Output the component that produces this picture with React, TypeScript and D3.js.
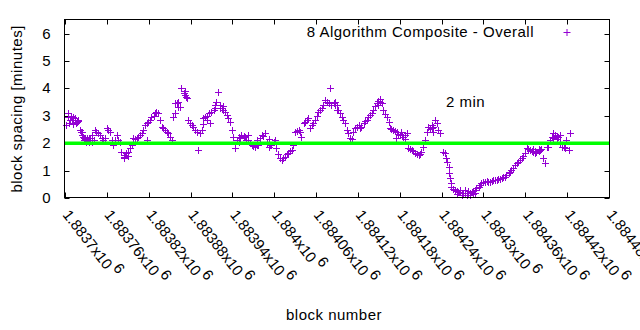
import React from 'react';
import * as d3 from 'd3';

// ---- data (block number, block spacing in minutes) ----
const blocksA = [1883702,1883704,1883705,1883706,1883707,1883708,1883710,1883711,1883712,1883714,1883716,1883717,1883718,1883719,1883722,1883723,1883724,1883725,1883726,1883727,1883729,1883730,1883731,1883733,1883734,1883736,1883738,1883739,1883741,1883743,1883745,1883748,1883750,1883753,1883755,1883757,1883760,1883762,1883765,1883767,1883769,1883772,1883774,1883776,1883779];
const spacingA = [2.66,2.95,2.97,2.75,2.85,3.0,2.85,2.7,2.9,2.9,2.75,2.78,2.85,2.8,2.48,2.4,2.42,2.3,2.24,2.1,2.15,2.05,2.18,2.1,2.2,2.18,2.3,2.05,2.12,2.48,2.42,2.36,2.3,2.18,2.12,2.2,2.54,2.48,2.42,2.12,1.93,2.12,2.3,2.12,2.05];

const blocksB = [1883781,1883784,1883785,1883786,1883788,1883790,1883791,1883793,1883796,1883798,1883800,1883803,1883805,1883808,1883810,1883812,1883815,1883817,1883818,1883819,1883822,1883824,1883827,1883829,1883831,1883834,1883836,1883839,1883841,1883843,1883846,1883848,1883851,1883853,1883855,1883858,1883860,1883862,1883865,1883867,1883870,1883872,1883874,1883877,1883879,1883882,1883884,1883886,1883889,1883891,1883894];
const spacingB = [1.69,1.51,1.45,1.57,1.63,1.55,1.69,1.81,1.93,2.18,2.15,2.18,2.24,2.3,2.36,2.48,2.66,2.73,2.12,2.78,2.85,2.97,3.0,3.09,3.15,3.09,2.85,2.6,2.54,2.48,2.42,2.36,2.24,2.1,2.97,3.09,3.45,3.51,3.33,4.0,3.82,3.76,3.7,2.85,2.73,2.66,2.6,2.48,2.42,1.75,2.36];

const blocksC = [1883896,1883898,1883901,1883903,1883906,1883908,1883910,1883913,1883915,1883917,1883920,1883922,1883925,1883927,1883929,1883932,1883934,1883937,1883939,1883941,1883944,1883946,1883949,1883951,1883953,1883956,1883958,1883960,1883963,1883965,1883968,1883970,1883972,1883975,1883977,1883980,1883982,1883984,1883987,1883989,1883992,1883994,1883996,1883999,1884001,1884003,1884006,1884008,1884011,1884013,1884015,1884018,1884020,1884023,1884025,1884027,1884030,1884032,1884035];
const spacingC = [2.48,2.7,2.97,3.0,3.09,2.73,3.15,3.21,3.4,3.51,3.88,3.3,3.27,3.2,3.15,3.03,2.91,2.78,2.48,2.24,1.81,2.1,2.24,2.2,2.3,2.25,2.24,2.1,2.12,2.0,1.93,1.9,1.87,1.95,1.93,2.2,2.3,2.25,2.36,2.0,1.87,1.95,1.93,2.05,2.12,1.81,1.6,1.45,1.39,1.45,1.51,1.6,1.63,1.7,1.75,1.93,2.42,2.45,2.48];

const blocksD = [1884037,1884039,1884042,1884044,1884047,1884049,1884051,1884054,1884056,1884058,1884061,1884063,1884066,1884068,1884070,1884073,1884075,1884078,1884080,1884082,1884085,1884087,1884090,1884092,1884094,1884097,1884099,1884101,1884104,1884106,1884109,1884111,1884113,1884116,1884118,1884121,1884123,1884125,1884128,1884130,1884133,1884135,1884137,1884140,1884142,1884144,1884147,1884149,1884152,1884154,1884156,1884159,1884161,1884164,1884166,1884168,1884171,1884173,1884176,1884178,1884180];
const spacingD = [2.4,2.24,2.73,2.78,2.85,2.91,2.54,2.66,2.75,2.85,3.0,3.15,3.2,3.27,3.4,3.58,3.5,3.45,4.0,3.39,3.45,3.4,3.39,3.21,3.09,2.95,2.85,2.73,2.48,2.36,2.18,2.15,2.4,2.54,2.6,2.66,2.55,2.6,2.73,2.8,2.85,2.95,3.03,3.1,3.21,3.35,3.45,3.55,3.51,3.45,3.21,3.05,2.97,2.78,2.54,2.5,2.48,2.45,2.42,2.35,2.3];

const blocksE = [1884183,1884185,1884187,1884190,1884192,1884195,1884197,1884199,1884202,1884204,1884207,1884209,1884211,1884214,1884216,1884219,1884221,1884223,1884226,1884228,1884231,1884233,1884235,1884238,1884242,1884245,1884247,1884248,1884250,1884251,1884252,1884253,1884254,1884257,1884259,1884262,1884264,1884266,1884269,1884271,1884274,1884276,1884278];
const spacingE = [2.28,2.24,2.3,2.36,1.81,1.78,1.75,1.7,1.63,1.6,1.57,1.62,1.69,1.87,2.1,2.42,2.6,2.5,2.54,2.6,2.85,2.73,2.48,2.36,1.69,1.63,1.45,1.3,1.14,0.9,0.72,0.55,0.41,0.33,0.29,0.25,0.23,0.21,0.2,0.19,0.18,0.17,0.17];

const blocksF = [1884281,1884283,1884285,1884288,1884290,1884293,1884295,1884297,1884300,1884302,1884305,1884307,1884309,1884312,1884314,1884317,1884319,1884321,1884324,1884326,1884328,1884331,1884333,1884336,1884338,1884340,1884343,1884345,1884348,1884350,1884352,1884355,1884357,1884360,1884362,1884364,1884367,1884369,1884371,1884374,1884376,1884379,1884381,1884383,1884386,1884388,1884391,1884393,1884395,1884398,1884400,1884403,1884405,1884407,1884410,1884412,1884415,1884417,1884419,1884422,1884424];
const spacingF = [0.2,0.23,0.26,0.29,0.35,0.41,0.48,0.54,0.57,0.6,0.62,0.6,0.6,0.62,0.64,0.66,0.66,0.68,0.68,0.72,0.75,0.78,0.84,0.9,0.96,1.02,1.1,1.2,1.26,1.32,1.38,1.45,1.55,1.63,1.81,1.78,1.75,1.72,1.69,1.7,1.69,1.72,1.75,1.8,1.45,1.27,1.85,1.87,2.1,2.24,2.2,2.3,2.25,2.24,2.0,1.87,1.85,1.81,2.12,1.75,2.36];

// additional scattered readings inside the dense clusters
const blocksG = [1883705,1883712,1883719,1883727,1883734,1883858,1883862,1883872,1883875,1883898,1883903,1883915,1883922,1883927,1883950,1883962,1883975,1883992,1884087,1884090,1884149,1884152,1884175,1884182,1884188,1884226,1884228,1884262,1884266,1884269,1884274,1884276,1884278,1884281,1884285,1884288,1884371,1884374,1884379,1884400,1884405,1884410];
const spacingG = [3.09,2.97,2.85,2.2,2.05,3.45,3.33,3.9,3.64,2.91,2.85,3.3,3.4,3.35,2.05,2.28,2.1,2.15,3.5,3.21,3.4,3.62,2.2,2.4,2.15,2.66,2.42,0.15,0.3,0.11,0.29,0.11,0.25,0.11,0.15,0.2,1.78,1.63,1.8,2.36,2.15,2.3];

const xTickValues = [1883700,1883760,1883820,1883880,1883940,1884000,1884060,1884120,1884180,1884240,1884300,1884360,1884420,1884480];
const yTickValues = [0,1,2,3,4,5,6];
const targetSpacing = 2;
const seriesLabel = '8 Algorithm Composite - Overall';
const targetLabel = '2 min';
const xTitle = 'block number';
const yTitle = 'block spacing [minutes]';

const blocks = [...blocksA, ...blocksB, ...blocksC, ...blocksD, ...blocksE, ...blocksF, ...blocksG];
const spacing = [...spacingA, ...spacingB, ...spacingC, ...spacingD, ...spacingE, ...spacingF, ...spacingG];

const W = 640, H = 330;
const X0 = 65, X1 = 609, Y0 = 198, Y1 = 19.8;
const PURPLE = '#9400d3';
const FONT = "'Liberation Sans', Arial, sans-serif";

const fmtTick = (v: number) => String(+(v / 1e6).toFixed(5));

export default function App() {
  const x = d3.scaleLinear().domain([1883700, 1884480]).range([X0, X1]);
  const y = d3.scaleLinear().domain([0, 6.5]).range([Y0, Y1]);
  const n = Math.min(blocks.length, spacing.length);
  let pts = '';
  for (let i = 0; i < n; i++) {
    const px = Math.round(x(blocks[i])) + 0.5;
    const py = Math.round(y(spacing[i])) + 0.5;
    pts += `M${px - 3.5},${py}h7M${px},${py - 3.5}v7`;
  }
  const fl = 64.5, fr = 609.5, ft = 19.5, fb = 197.5;
  const gy = y(targetSpacing);
  return (
    <svg width={W} height={H} style={{ position: 'absolute', left: 0, top: 0, background: '#fff' }}
      fontFamily={FONT} fontSize={15} letterSpacing={0.5}>
      <rect x={0} y={0} width={W} height={H} fill="#fff" />
      {/* ticks */}
      <g stroke="#000" strokeWidth={1}>
        {yTickValues.map(v => {
          const ty = Math.round(y(v)) + 0.5;
          return <g key={'y' + v}>
            <line x1={fl} x2={fl + 5} y1={ty} y2={ty} />
            <line x1={fr} x2={fr - 5} y1={ty} y2={ty} />
          </g>;
        })}
        {xTickValues.map(v => {
          const tx = Math.round(x(v)) + 0.5;
          return <g key={'x' + v}>
            <line x1={tx} x2={tx} y1={fb} y2={fb - 5} />
            <line x1={tx} x2={tx} y1={ft} y2={ft + 5} />
          </g>;
        })}
      </g>
      {/* points */}
      <path d={pts} stroke={PURPLE} strokeWidth={1} fill="none" />
      {/* target line */}
      <line x1={X0} x2={X1} y1={gy} y2={gy} stroke="#00ff00" strokeWidth={3.5} />
      {/* frame */}
      <rect x={fl} y={ft} width={fr - fl} height={fb - ft} fill="none" stroke="#000" strokeWidth={1} />
      {/* y tick labels */}
      {yTickValues.map(v => (
        <text key={'yl' + v} x={51} y={y(v) + 5} textAnchor="end" fill="#000">{v}</text>
      ))}
      {/* x tick labels */}
      {xTickValues.map(v => (
        <text key={'xl' + v} transform={`translate(${x(v) - 3},${215}) rotate(52)`} fill="#000" letterSpacing={0}>
          {fmtTick(v) + 'x10'}<tspan dx={3} dy={-7}>6</tspan>
        </text>
      ))}
      {/* legend */}
      <text x={534} y={37} textAnchor="end" fill="#000">{seriesLabel}</text>
      <path d={`M563.5,32.5h7M567,29v7`} stroke={PURPLE} strokeWidth={1} />
      <text x={446} y={107} fill="#000">{targetLabel}</text>
      {/* axis titles */}
      <text transform={`translate(21.5,${(Y0 + Y1) / 2}) rotate(-90)`} textAnchor="middle" fill="#000">{yTitle}</text>
      <text x={(X0 + X1) / 2 - 3} y={320} textAnchor="middle" fill="#000">{xTitle}</text>
    </svg>
  );
}
